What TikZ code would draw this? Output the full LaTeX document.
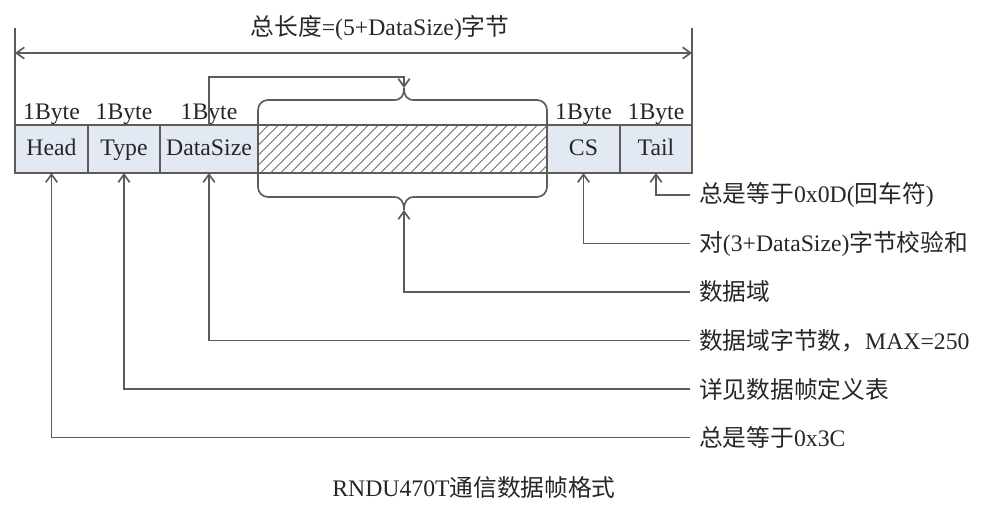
\documentclass[tikz,border=0pt]{standalone}
\usepackage{fontspec}
\setmainfont{Liberation Serif}
\newfontfamily\zhfont{Noto Sans CJK SC}
\newcommand{\zh}[1]{{\zhfont #1}}
\usetikzlibrary{arrows.meta,positioning,calc,patterns.meta}
\definecolor{fieldblue}{HTML}{E3E9F3}
\definecolor{linegray}{HTML}{5C5C5C}
\definecolor{textgray}{HTML}{262626}

\begin{document}
\begin{tikzpicture}[
    >={Straight Barb[length=4.5pt,width=6.5pt]}, % 开口箭头
    font=\fontsize{13.5}{15}\selectfont,
    line/.style={draw=linegray, line width=0.95pt},
    field/.style={draw=linegray, line width=0.95pt, fill=fieldblue,
        minimum height=0.96cm, inner sep=0pt, outer sep=0pt, text=textgray,
        text height=0.8em, text depth=0.07em},
    bytelbl/.style={above, inner sep=0.3pt, text=textgray},
    note/.style={anchor=west, inner xsep=5pt, text=textgray}
]
    \useasboundingbox (0,0) rectangle (20,-10.28);

    % --- 帧字段 ---
    \node[field, minimum width=1.46cm, anchor=west] (head) at (0.30,-2.98) {Head};
    \node[field, minimum width=1.44cm, right=0pt of head] (type) {Type};
    \node[field, minimum width=1.96cm, right=0pt of type] (dsize) {DataSize};
    \node[field, minimum width=5.78cm, right=0pt of dsize, fill=none,
        pattern={Lines[angle=45,distance=4pt,line width=0.5pt]},
        pattern color=linegray] (data) {};
    \node[field, minimum width=1.46cm, right=0pt of data] (cs) {CS};
    \node[field, minimum width=1.44cm, right=0pt of cs] (tail) {Tail};

    % 字节数标注
    \node[bytelbl] (bHead) at (head.north) {1Byte};
    \node[bytelbl] (bType) at (type.north) {1Byte};
    \node[bytelbl] (bSize) at (dsize.north) {1Byte};
    \node[bytelbl] (bCS)   at (cs.north) {1Byte};
    \node[bytelbl] (bTail) at (tail.north) {1Byte};

    % --- 总长度尺寸线 ---
    \coordinate (dimL) at ($(head.north west)+(0,1.44)$);
    \coordinate (dimR) at ($(tail.north east)+(0,1.44)$);
    \draw[line] (head.north west) -- ++(0,1.94);
    \draw[line] (tail.north east) -- ++(0,1.94);
    \draw[line,<->] (dimL) -- (dimR);
    \node[text=textgray] (total) at (7.60,-0.56) {\zh{总长度}=(5+DataSize)\zh{字节}};

    % --- 数据域括号 ---
    \coordinate (braceT) at (8.08,-1.76);
    \coordinate (braceB) at (8.08,-4.20);
    \draw[line] (data.west) -- (5.16,-2.20)
        arc[start angle=180, end angle=90, radius=0.2] -- (7.88,-2.00)
        .. controls (8.02,-2.00) and (8.08,-1.92) .. (braceT)
        .. controls (8.08,-1.92) and (8.14,-2.00) .. (8.28,-2.00)
        -- (10.74,-2.00) arc[start angle=90, end angle=0, radius=0.2]
        -- (10.94,-3.74) arc[start angle=0, end angle=-90, radius=0.2]
        -- (8.28,-3.94)
        .. controls (8.14,-3.94) and (8.08,-4.04) .. (braceB)
        .. controls (8.08,-4.04) and (8.02,-3.94) .. (7.88,-3.94)
        -- (5.36,-3.94) arc[start angle=270, end angle=180, radius=0.2]
        -- cycle;

    % DataSize 指向数据域
    \draw[line,->] (dsize.north) -- ++(0,0.96) -| (braceT);

    % --- 说明文字 ---
    \node[note] (nTail) at (13.80,-3.90) {\zh{总是等于}0x0D(\zh{回车符})};
    \node[note] (nCS)   at (13.80,-4.87) {\zh{对}(3+DataSize)\zh{字节校验和}};
    \node[note] (nData) at (13.80,-5.84) {\zh{数据域}};
    \node[note] (nSize) at (13.80,-6.81) {\zh{数据域字节数，}MAX=250};
    \node[note] (nType) at (13.80,-7.78) {\zh{详见数据帧定义表}};
    \node[note] (nHead) at (13.80,-8.75) {\zh{总是等于}0x3C};

    % 引出线
    \draw[line,->] (nTail.west) -| (tail.south);
    \draw[line,->] (nCS.west)   -| (cs.south);
    \draw[line,->] (nData.west) -| (braceB);
    \draw[line,->] (nSize.west) -| (dsize.south);
    \draw[line,->] (nType.west) -| (type.south);
    \draw[line,->] (nHead.west) -| (head.south);

    % --- 标题 ---
    \node[text=textgray] (caption) at (9.48,-9.76) {RNDU470T\zh{通信数据帧格式}};
\end{tikzpicture}
\end{document}
